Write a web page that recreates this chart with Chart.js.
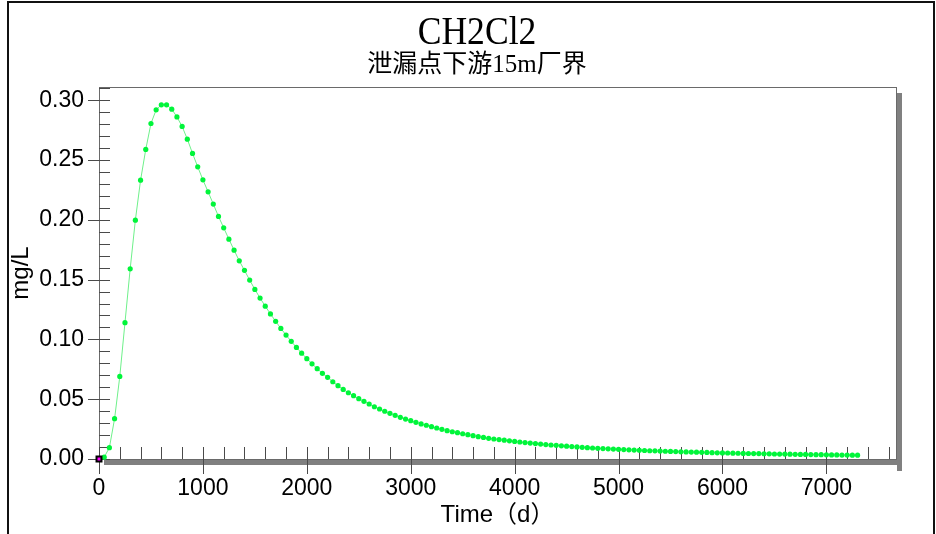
<!DOCTYPE html>
<html><head><meta charset="utf-8">
<script src="https://cdn.jsdelivr.net/npm/chart.js@4.4.1/dist/chart.umd.min.js"></script>
<style>html,body{margin:0;padding:0;background:#fff;}#wrap{width:936px;height:534px;}</style>
</head><body><div id="wrap"><canvas id="c" width="936" height="534"></canvas></div>
<script>
const chartTitle = 'CH2Cl2';
const chartSubtitle = '泄漏点下游15m厂界';
const xAxisTitle = 'Time（d）';
const yAxisTitle = 'mg/L';

const days = [0,50,100,150,200,250,300,350,400,450,500,550,600,650,700,750,800,850,900,950,
1000,1050,1100,1150,1200,1250,1300,1350,1400,1450,1500,1550,1600,1650,1700,1750,1800,1850,1900,1950,
2000,2050,2100,2150,2200,2250,2300,2350,2400,2450,2500,2550,2600,2650,2700,2750,2800,2850,2900,2950,
3000,3050,3100,3150,3200,3250,3300,3350,3400,3450,3500,3550,3600,3650,3700,3750,3800,3850,3900,3950,
4000,4050,4100,4150,4200,4250,4300,4350,4400,4450,4500,4550,4600,4650,4700,4750,4800,4850,4900,4950,
5000,5050,5100,5150,5200,5250,5300,5350,5400,5450,5500,5550,5600,5650,5700,5750,5800,5850,5900,5950,
6000,6050,6100,6150,6200,6250,6300,6350,6400,6450,6500,6550,6600,6650,6700,6750,6800,6850,6900,6950,
7000,7050,7100,7150,7200,7250,7300];

const conc = [0,0.0015,0.0095,0.0337,0.069,0.114,0.159,0.1997,0.2331,0.2588,0.2805,0.2919,0.2961,0.2961,0.2925,0.2860,0.2780,0.2674,0.2555,0.2443,
0.2334,0.2234,0.2131,0.2028,0.1933,0.1838,0.1746,0.1657,0.1577,0.1496,0.1418,0.1345,0.1278,0.1213,0.1151,0.1092,0.1036,0.0984,0.0933,0.0885,
0.0839,0.0796,0.0755,0.0716,0.0683,0.0646,0.0613,0.0582,0.0554,0.0529,0.0504,0.0482,0.0460,0.0437,0.0418,0.0399,0.0382,0.0365,0.0348,0.0334,
0.0320,0.0307,0.0293,0.0282,0.0270,0.0259,0.0248,0.0237,0.0228,0.0220,0.0211,0.0203,0.0195,0.0187,0.0180,0.0173,0.0167,0.0162,0.0157,0.0152,
0.0147,0.0142,0.0137,0.0133,0.0129,0.0125,0.0121,0.0117,0.0114,0.0110,0.0107,0.0104,0.0101,0.0098,0.0095,0.0092,0.0089,0.0087,0.0085,0.0083,
0.0081,0.0079,0.0077,0.0075,0.0073,0.0071,0.0069,0.0068,0.0066,0.0065,0.0063,0.0062,0.0060,0.0059,0.0058,0.0057,0.0056,0.0055,0.0053,0.0052,
0.0051,0.0050,0.0049,0.0048,0.0047,0.0046,0.0045,0.0045,0.0044,0.0043,0.0042,0.0041,0.0041,0.0040,0.0039,0.0038,0.0038,0.0037,0.0036,0.0036,
0.0035,0.0034,0.0034,0.0033,0.0033,0.0032,0.0032];

const originMarkX = [0];
const originMarkY = [0];

const xTickValues = [0,1000,2000,3000,4000,5000,6000,7000];
const yTickValues = [0,0.05,0.10,0.15,0.20,0.25,0.30];
const xMinorStep = 200;
const yMinorStep = 0.01;

const deco = {
  id: 'deco',
  beforeDatasetsDraw(chart) {
    const ctx = chart.ctx, a = chart.chartArea;
    const xs = chart.scales.x, ys = chart.scales.y;
    ctx.save();
    ctx.fillStyle = '#808080';
    ctx.fillRect(a.left + 5, a.bottom, a.right - a.left + 1, 6);
    ctx.fillRect(a.right + 1, a.top + 6, 5, a.bottom - a.top + 6);
    ctx.strokeStyle = '#6a6a6a';
    ctx.lineWidth = 1;
    ctx.strokeRect(a.left + 0.5, a.top + 0.5, a.right - a.left, a.bottom - a.top);
    ctx.strokeStyle = '#4a4a4a';
    ctx.beginPath();
    for (let i = 0; i * yMinorStep <= ys.max + 1e-9; i++) {
      const y = Math.round(ys.getPixelForValue(i * yMinorStep)) + 0.5;
      const major = i % 5 === 0;
      ctx.moveTo(major ? a.left - 11 : a.left, y);
      ctx.lineTo(a.left + 11, y);
    }
    for (let i = 0; i * xMinorStep <= xs.max; i++) {
      const x = Math.round(xs.getPixelForValue(i * xMinorStep)) + 0.5;
      const major = i % 5 === 0;
      ctx.moveTo(x, a.bottom - 12);
      ctx.lineTo(x, major ? a.bottom + 15 : a.bottom);
    }
    ctx.stroke();
    ctx.restore();
  },
  afterDraw(chart) {
    const ctx = chart.ctx;
    ctx.save();
    ctx.strokeStyle = '#111';
    ctx.lineWidth = 2;
    ctx.beginPath();
    ctx.moveTo(8, 534); ctx.lineTo(8, 2); ctx.lineTo(934, 2); ctx.lineTo(934, 534);
    ctx.stroke();
    ctx.fillStyle = '#000';
    ctx.textAlign = 'center';
    ctx.textBaseline = 'alphabetic';
    ctx.font = '40px "Liberation Serif"';
    ctx.translate(477, 44);
    ctx.scale(0.89, 1);
    ctx.fillText(chartTitle, 0, 0);
    ctx.restore();
    ctx.save();
    ctx.fillStyle = '#000';
    ctx.textAlign = 'center';
    ctx.font = '25px "Liberation Serif", "Noto Sans CJK SC"';
    ctx.fillText(chartSubtitle, 477, 72);
    ctx.restore();
  }
};

new Chart(document.getElementById('c'), {
  type: 'scatter',
  data: {
    datasets: [{
      data: originMarkX.map((x, i) => ({x: x, y: originMarkY[i]})),
      showLine: false,
      pointStyle: 'rect',
      pointRadius: 3.5,
      pointBackgroundColor: '#ff00ff',
      pointBorderColor: '#000',
      pointBorderWidth: 2,
      clip: false,
      order: 0
    }, {
      data: days.map((d, i) => ({x: d, y: conc[i]})),
      showLine: true,
      borderColor: '#6ef08a',
      borderWidth: 1,
      pointRadius: 2.6,
      pointBackgroundColor: '#00f53a',
      pointBorderWidth: 0,
      tension: 0,
      clip: false,
      order: 1
    }]
  },
  options: {
    responsive: false,
    animation: false,
    events: [],
    devicePixelRatio: 1,
    layout: {padding: {top: 87, right: 40, bottom: 0, left: 0}},
    plugins: {legend: {display: false}, tooltip: {enabled: false}, title: {display: false}},
    scales: {
      x: {
        type: 'linear', min: 0, max: 7670,
        grid: {display: false, drawTicks: false},
        border: {display: false},
        afterBuildTicks: s => { s.ticks = xTickValues.map(v => ({value: v})); },
        afterFit: s => { s.height = 75; },
        ticks: {color: '#000', padding: 16, maxRotation: 0, callback: v => String(v), font: {family: 'Liberation Sans', size: 23}},
        title: {display: true, text: xAxisTitle, color: '#000', padding: {top: 0, bottom: 4}, font: {family: '"Liberation Sans", "Noto Sans CJK SC"', size: 24}}
      },
      y: {
        type: 'linear', min: 0, max: 0.311,
        grid: {display: false, drawTicks: false},
        border: {display: false},
        afterBuildTicks: s => { s.ticks = yTickValues.map(v => ({value: v})); },
        afterFit: s => { s.width = 99; },
        ticks: {color: '#000', padding: 15, callback: v => Number(v).toFixed(2), font: {family: 'Liberation Sans', size: 23}},
        title: {display: true, text: yAxisTitle, color: '#000', padding: {top: 7, bottom: 0}, font: {family: 'Liberation Sans', size: 24}}
      }
    }
  },
  plugins: [deco]
});
</script></body></html>
